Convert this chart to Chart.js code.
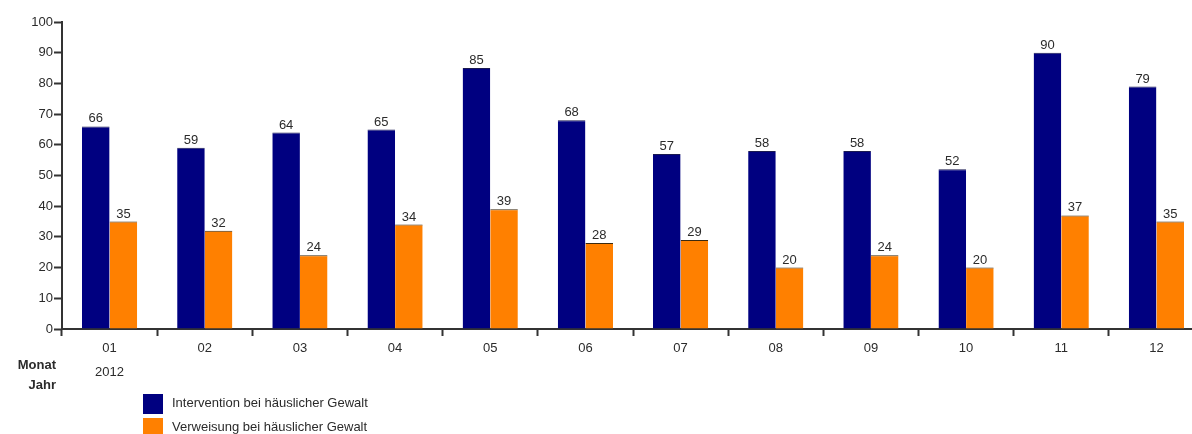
<!DOCTYPE html>
<html>
<head>
<meta charset="utf-8">
<script src="https://cdn.jsdelivr.net/npm/chart.js@4"></script>
<style>
  html, body { margin: 0; padding: 0; background: #fff; overflow: hidden; }
  #wrap { position: relative; width: 1212px; height: 434px; }
</style>
</head>
<body>
<div id="wrap"><canvas id="monthly"></canvas></div>
<script>
const months = ["01", "02", "03", "04", "05", "06", "07", "08", "09", "10", "11", "12"];
const year = "2012";
const interventions = [66, 59, 64, 65, 85, 68, 57, 58, 58, 52, 90, 79];
const referrals = [35, 32, 24, 34, 39, 28, 29, 20, 24, 20, 37, 35];
const seriesNames = ["Intervention bei häuslicher Gewalt", "Verweisung bei häuslicher Gewalt"];
const seriesColors = ["#000080", "#ff8000"];

const txt = "#2b2b2b";
const font = "Liberation Sans, Arial, sans-serif";

// values above each bar, plus the row captions and legend under the axis
const extras = {
  id: "extras",
  afterDatasetsDraw(chart) {
    const { ctx } = chart;
    ctx.save();
    ctx.fillStyle = txt;
    ctx.font = "13px " + font;
    ctx.textAlign = "center";
    ctx.textBaseline = "bottom";
    chart.data.datasets.forEach((ds, i) => {
      chart.getDatasetMeta(i).data.forEach((bar, j) => {
        ctx.fillText(ds.data[j], bar.x, bar.y - 1);
      });
    });
    ctx.restore();
  },
  afterDraw(chart) {
    const { ctx, scales } = chart;
    ctx.save();
    ctx.fillStyle = txt;
    ctx.textBaseline = "middle";
    ctx.font = "13px " + font;
    ctx.textAlign = "center";
    ctx.fillText(year, scales.x.getPixelForValue(0), 372);
    ctx.font = "bold 13px " + font;
    ctx.textAlign = "right";
    ctx.fillText("Monat", 56, 365);
    ctx.fillText("Jahr", 56, 385);

    ctx.font = "13px " + font;
    ctx.textAlign = "left";
    chart.data.datasets.forEach((ds, i) => {
      const y = 394 + i * 24;
      ctx.fillStyle = ds.backgroundColor;
      ctx.fillRect(143, y, 20, 20);
      ctx.fillStyle = txt;
      ctx.fillText(ds.label, 172, y + 9);
    });
    ctx.restore();
  },
};

new Chart(document.getElementById("monthly"), {
  type: "bar",
  data: {
    labels: months,
    datasets: [
      {
        label: seriesNames[0],
        data: interventions,
        backgroundColor: seriesColors[0],
        borderColor: "#1a1a50",
        borderWidth: { top: 1, left: 0, right: 0, bottom: 0 },
      },
      {
        label: seriesNames[1],
        data: referrals,
        backgroundColor: seriesColors[1],
        borderColor: "#3a2a10",
        borderWidth: { top: 1, left: 0, right: 0, bottom: 0 },
      },
    ],
  },
  options: {
    responsive: true,
    maintainAspectRatio: false,
    animation: false,
    barPercentage: 1,
    categoryPercentage: 0.58,
    layout: { padding: { top: 22, right: 8, left: 0, bottom: 0 } },
    plugins: {
      legend: { display: false },
      tooltip: { enabled: false },
    },
    scales: {
      x: {
        afterFit: (s) => { s.height = 105; },
        border: { display: true, color: "#333", width: 2 },
        grid: {
          offset: true,
          drawOnChartArea: false,
          drawTicks: true,
          tickLength: 7,
          tickWidth: 2,
          tickColor: "#333",
        },
        ticks: { color: txt, font: { family: font, size: 13 }, padding: 5 },
      },
      y: {
        min: 0,
        max: 100,
        afterFit: (s) => { s.width = 62; },
        border: { display: true, color: "#333", width: 2 },
        grid: {
          drawOnChartArea: false,
          tickLength: 8,
          tickWidth: 2,
          tickColor: "#333",
        },
        ticks: {
          stepSize: 10,
          color: txt,
          font: { family: font, size: 13 },
          padding: 1,
        },
      },
    },
  },
  plugins: [extras],
});
</script>
</body>
</html>
